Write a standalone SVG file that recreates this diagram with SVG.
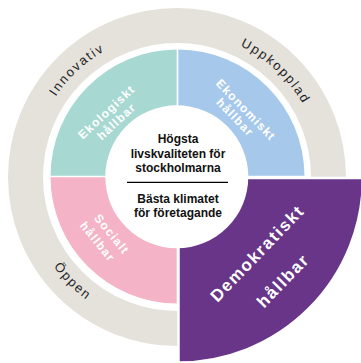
<svg xmlns="http://www.w3.org/2000/svg" width="361" height="363" viewBox="0 0 361 363">
<style>
.ring{font-family:"Liberation Sans",Arial,sans-serif;font-size:13px;fill:#1f1f1f;letter-spacing:1.8px}
.lbl{font-family:"Liberation Sans",Arial,sans-serif;font-weight:bold;font-size:12px;fill:#fff;letter-spacing:1.2px;text-anchor:middle;dominant-baseline:central}
.big{font-size:17px;letter-spacing:1.6px}
.ctr{font-family:"Liberation Sans",Arial,sans-serif;font-weight:bold;font-size:12px;fill:#111;text-anchor:middle}
</style>
<defs>
<path id="pInn" d="M35.23,209.73 A145.5,145.5 0 0 1 219.54,37.86"/>
<path id="pUpp" d="M134.46,37.86 A145.5,145.5 0 0 1 318.77,209.73"/>
<path id="pOpp" d="M29.70,137.53 A152.5,152.5 0 0 0 216.47,324.30"/>
</defs>
<rect width="361" height="363" fill="#fff"/>
<g id="outer-ring">
<circle cx="177" cy="177" r="151.5" fill="none" stroke="#E5E2DC" stroke-width="35"/>
<text class="ring"><textPath href="#pInn" startOffset="50%" text-anchor="middle">Innovativ</textPath></text>
<text class="ring"><textPath href="#pUpp" startOffset="50%" text-anchor="middle">Uppkopplad</textPath></text>
<text class="ring"><textPath href="#pOpp" startOffset="50%" text-anchor="middle">Öppen</textPath></text>
</g>
<g id="ekologiskt">
<path d="M176.7,175.7 H50.5 A127,127 0 0 1 176.7,49.5 Z" fill="#A8D8D2"/>
<text class="lbl" transform="translate(106.5,112) rotate(-43)">Ekologiskt</text>
<text class="lbl" transform="translate(116.5,121.5) rotate(-43)">hållbar</text>
</g>
<g id="ekonomiskt">
<path d="M178.3,175.7 V49.5 A127,127 0 0 1 304.5,175.7 Z" fill="#A5C8EB"/>
<text class="lbl" transform="translate(245.8,110) rotate(46)">Ekonomiskt</text>
<text class="lbl" transform="translate(235,117.4) rotate(46)">hållbar</text>
</g>
<g id="socialt">
<path d="M176.7,177.3 V303.5 A127,127 0 0 1 50.5,177.3 Z" fill="#F4B3C6"/>
<text class="lbl" transform="translate(111.7,234.2) rotate(51)">Socialt</text>
<text class="lbl" transform="translate(97.5,241.7) rotate(51)">hållbar</text>
</g>
<g id="demokratiskt">
<path d="M178.5,178 H363 A184.5,184.5 0 0 1 178.5,362.5 V363 Z" fill="#683588" stroke="#fff" stroke-width="2.5"/>
<text class="lbl big" transform="translate(257.5,253.5) rotate(-46)">Demokratiskt</text>
<text class="lbl big" transform="translate(283.3,280.8) rotate(-46)">hållbar</text>
</g>
<g id="center">
<circle cx="176.8" cy="176.8" r="71.5" fill="#fff"/>
<text class="ctr" x="178" y="143">Högsta</text>
<text class="ctr" x="178" y="157.5">livskvaliteten för</text>
<text class="ctr" x="178" y="172">stockholmarna</text>
<line x1="127" y1="182.3" x2="228" y2="182.3" stroke="#000" stroke-width="1.3"/>
<text class="ctr" x="178" y="202.5">Bästa klimatet</text>
<text class="ctr" x="178" y="216.5">för företagande</text>
</g>
</svg>
